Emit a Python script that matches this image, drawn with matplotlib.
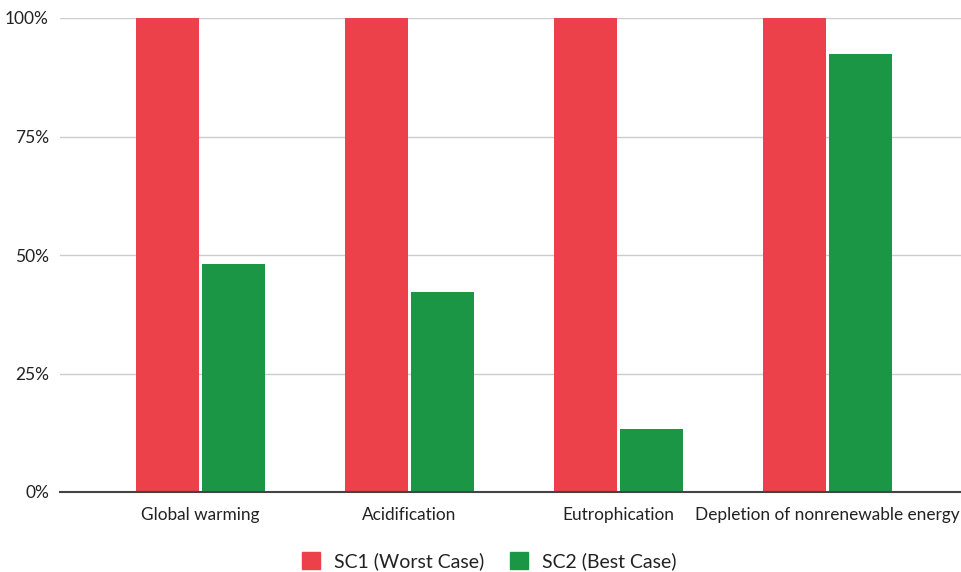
import matplotlib
matplotlib.use("Agg")
import matplotlib.pyplot as plt
import numpy as np
from matplotlib.patches import Patch

plt.rcParams['font.family'] = ['Lato', 'DejaVu Sans']

categories = ["Global warming", "Acidification", "Eutrophication", "Depletion of nonrenewable energy"]
sc1_worst = [100, 100, 100, 100]
sc2_best = [48.1, 42.2, 13.3, 92.3]
series_names = ["SC1 (Worst Case)", "SC2 (Best Case)"]
colors = ["#ec404b", "#1b9645"]

fig = plt.figure(figsize=(9.62, 5.72), dpi=100)
ax = fig.add_axes([60/962, 1 - 492/572, 902/962, 474/572])

x = np.arange(len(categories))
w = 0.302
gap = 0.012
ax.bar(x - w/2 - gap/2, sc1_worst, width=w, color=colors[0], zorder=3)
ax.bar(x + w/2 + gap/2, sc2_best, width=w, color=colors[1], zorder=3)

ax.set_xlim(-0.672, 3.644)
ax.set_ylim(0, 100)
ax.set_yticks([0, 25, 50, 75, 100])
ax.set_yticklabels(["0%", "25%", "50%", "75%", "100%"])
ax.set_xticks(x)
ax.set_xticklabels(categories, fontsize=12.4)

ax.yaxis.grid(True, color="#cccccc", linewidth=1, zorder=0)
ax.set_axisbelow(True)
for s in ["top", "right", "left"]:
    ax.spines[s].set_visible(False)
ax.spines["bottom"].set_color("#444444")
ax.spines["bottom"].set_linewidth(1.5)
ax.spines["bottom"].set_zorder(4)
ax.tick_params(axis="both", length=0, colors="#222222")
ax.tick_params(axis="y", pad=8, labelsize=12.5)
ax.tick_params(axis="x", pad=11)

handles = [Patch(color=c) for c in colors]
fig.legend(handles, series_names, loc="center", bbox_to_anchor=(489/962, 1 - 561/572),
           ncol=2, frameon=False, fontsize=14, handlelength=0.95, handleheight=0.95,
           handletextpad=0.7, columnspacing=1.3, labelcolor="#222222")

fig.savefig("out.png", dpi=100)
